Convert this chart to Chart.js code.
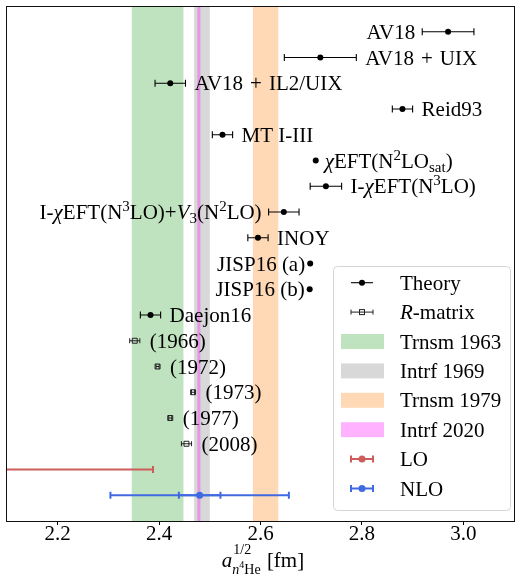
<!DOCTYPE html>
<html>
<head>
<meta charset="utf-8">
<script src="https://cdn.jsdelivr.net/npm/chart.js@4.4.1/dist/chart.umd.min.js"></script>
<style>
    html, body { margin: 0; padding: 0; background: #fff; }
</style>
</head>
<body>
<canvas id="grafico" width="515" height="574"></canvas>
<script>
// theory points, top to bottom
const theoryNames = ['AV18', 'AV18\u2004+\u2004UIX', 'AV18\u2004+\u2004IL2/UIX', 'Reid93', 'MT I-III', '$χ$EFT(N^{2}LO_{sat})',
    'I-$χ$EFT(N^{3}LO)', 'I-$χ$EFT(N^{3}LO)+$V$_{3}(N^{2}LO)', 'INOY', 'JISP16 (a)', 'JISP16 (b)', 'Daejon16'];
const theoryX = [2.97, 2.718, 2.422, 2.88, 2.525, 2.709, 2.729, 2.646, 2.595, 2.698, 2.697, 2.383];
const theoryErr = [0.051, 0.071, 0.03, 0.02, 0.02, 0, 0.031, 0.03, 0.02, 0, 0, 0.02];
const theorySide = ['left', 'right', 'right', 'right', 'right', 'right', 'right', 'left', 'right', 'left', 'left', 'right'];

// R-matrix points
const rmNames = ['(1966)', '(1972)', '(1973)', '(1977)', '(2008)'];
const rmX = [2.352, 2.397, 2.467, 2.422, 2.454];
const rmErr = [0.01, 0.003, 0.003, 0.003, 0.01];

// LO / NLO
const loX = 1.9;
const loErr = 0.488;
const nloX = 2.48;
const nloErr = [0.041, 0.176];

// experimental bands
const bandNames = ['Trnsm 1963', 'Intrf 1969', 'Trnsm 1979', 'Intrf 2020'];
const bandLow = [2.346, 2.469, 2.585, 2.4755];
const bandHigh = [2.448, 2.5, 2.635, 2.4815];
const bandColors = ['rgba(44,160,44,0.3)', 'rgba(127,127,127,0.3)', 'rgba(255,127,14,0.3)', 'rgba(255,0,255,0.3)'];

const xTicks = [2.2, 2.4, 2.6, 2.8, 3.0];

const serif = '"Liberation Serif", "DejaVu Serif", serif';
const loColor = 'rgb(205,92,92)';
const nloColor = 'rgb(65,105,225)';

// texto com $italico$, ^{sup} e _{sub}
function parseRich(str) {
    const segs = [];
    let it = false;
    let i = 0;
    while (i < str.length) {
        const c = str[i];
        if (c === '$') { it = !it; i++; continue; }
        if ((c === '^' || c === '_') && str[i + 1] === '{') {
            const end = str.indexOf('}', i);
            segs.push({ t: str.slice(i + 2, end), it: false, pos: c === '^' ? 'sup' : 'sub' });
            i = end + 1;
            continue;
        }
        const last = segs[segs.length - 1];
        if (last && last.pos === 'base' && last.it === it) last.t += c;
        else segs.push({ t: c, it: it, pos: 'base' });
        i++;
    }
    return segs;
}

function fontFor(s) {
    const size = s.pos === 'base' ? 21 : 15;
    return (s.it ? 'italic ' : '') + size + 'px ' + serif;
}

function drawRich(ctx, str, x, y, align) {
    const segs = parseRich(str);
    let w = 0;
    segs.forEach(s => { ctx.font = fontFor(s); s.w = ctx.measureText(s.t).width; w += s.w; });
    let cx = align === 'right' ? x - w : x;
    const baseY = y + 7;
    ctx.textAlign = 'left';
    ctx.textBaseline = 'alphabetic';
    segs.forEach(s => {
        ctx.font = fontFor(s);
        const dy = s.pos === 'sup' ? -8 : (s.pos === 'sub' ? 4 : 0);
        ctx.fillText(s.t, cx, baseY + dy);
        cx += s.w;
    });
}

function hbar(ctx, x0, x1, y, cap, color, lw) {
    ctx.strokeStyle = color;
    ctx.lineWidth = lw;
    ctx.beginPath();
    ctx.moveTo(x0, y); ctx.lineTo(x1, y);
    ctx.moveTo(x0, y - cap); ctx.lineTo(x0, y + cap);
    ctx.moveTo(x1, y - cap); ctx.lineTo(x1, y + cap);
    ctx.stroke();
}

const rmRow = i => theoryX.length + i;
const loRow = theoryX.length + rmX.length;
const nloRow = loRow + 1;

const extras = {
    id: 'extras',
    beforeDatasetsDraw(chart) {
        const { ctx, chartArea: a, scales: { x, y } } = chart;
        ctx.save();
        ctx.beginPath();
        ctx.rect(a.left, a.top, a.right - a.left, a.bottom - a.top);
        ctx.clip();

        for (let i = 0; i < bandLow.length; i++) {
            const p0 = x.getPixelForValue(bandLow[i]);
            const p1 = x.getPixelForValue(bandHigh[i]);
            ctx.fillStyle = bandColors[i];
            ctx.fillRect(p0, a.top, p1 - p0, a.bottom - a.top);
        }

        for (let i = 0; i < theoryX.length; i++) {
            if (theoryErr[i] > 0) {
                hbar(ctx, x.getPixelForValue(theoryX[i] - theoryErr[i]), x.getPixelForValue(theoryX[i] + theoryErr[i]),
                    y.getPixelForValue(i), 3.5, '#000', 1.1);
            }
        }
        for (let i = 0; i < rmX.length; i++) {
            hbar(ctx, x.getPixelForValue(rmX[i] - rmErr[i]), x.getPixelForValue(rmX[i] + rmErr[i]),
                y.getPixelForValue(rmRow(i)), 2.5, '#222', 1);
        }
        hbar(ctx, x.getPixelForValue(loX - loErr), x.getPixelForValue(loX + loErr), y.getPixelForValue(loRow), 3.5, loColor, 2);
        nloErr.forEach(e => {
            hbar(ctx, x.getPixelForValue(nloX - e), x.getPixelForValue(nloX + e), y.getPixelForValue(nloRow), 3.5, nloColor, 2);
        });
        ctx.restore();
    },
    afterDatasetsDraw(chart) {
        const { ctx, scales: { x, y } } = chart;
        ctx.save();
        ctx.fillStyle = '#000';
        for (let i = 0; i < theoryNames.length; i++) {
            const yy = y.getPixelForValue(i);
            if (theorySide[i] === 'right') {
                drawRich(ctx, theoryNames[i], x.getPixelForValue(theoryX[i] + theoryErr[i]) + 9, yy, 'left');
            } else {
                const gap = theoryErr[i] > 0 ? 7 : 5;
                drawRich(ctx, theoryNames[i], x.getPixelForValue(theoryX[i] - theoryErr[i]) - gap, yy, 'right');
            }
        }
        for (let i = 0; i < rmNames.length; i++) {
            const px = Math.max(x.getPixelForValue(rmX[i] + rmErr[i]), x.getPixelForValue(rmX[i]) + 2.5);
            drawRich(ctx, rmNames[i], px + 10, y.getPixelForValue(rmRow(i)), 'left');
        }
        ctx.restore();
    },
    afterDraw(chart) {
        const { ctx, chartArea: a } = chart;
        ctx.save();
        // moldura
        ctx.strokeStyle = '#111';
        ctx.lineWidth = 1;
        ctx.strokeRect(a.left - 0.5, a.top + 0.5, a.right - a.left + 1, a.bottom - a.top);

        // legenda
        const lx = 333.5, ly = 266.5, lw = 177, lh = 244;
        ctx.beginPath();
        ctx.roundRect(lx, ly, lw, lh, 4);
        ctx.fillStyle = 'rgba(255,255,255,0.8)';
        ctx.fill();
        ctx.strokeStyle = '#d5d5d5';
        ctx.lineWidth = 1;
        ctx.stroke();

        const items = ['Theory', '$R$-matrix'].concat(bandNames, ['LO', 'NLO']);
        items.forEach((name, i) => {
            const yy = 282.7 + i * 29.4;
            const hx0 = 351, hx1 = 373, hc = 362;
            if (i === 0) {
                ctx.strokeStyle = '#000'; ctx.lineWidth = 1.1;
                ctx.beginPath(); ctx.moveTo(hx0, yy); ctx.lineTo(hx1, yy); ctx.stroke();
                ctx.fillStyle = '#000';
                ctx.beginPath(); ctx.arc(hc, yy, 3, 0, Math.PI * 2); ctx.fill();
            } else if (i === 1) {
                hbar(ctx, hx0, hx1, yy, 2.5, '#222', 1);
                ctx.strokeRect(hc - 2.5, yy - 2.5, 5, 5);
            } else if (i < 6) {
                ctx.fillStyle = bandColors[i - 2];
                ctx.fillRect(341, yy - 7.5, 43, 15);
            } else {
                const col = i === 6 ? loColor : nloColor;
                hbar(ctx, hx0, hx1, yy, 3.5, col, 2);
                ctx.fillStyle = col;
                ctx.beginPath(); ctx.arc(hc, yy, 3.5, 0, Math.PI * 2); ctx.fill();
            }
            ctx.fillStyle = '#000';
            drawRich(ctx, name, 400, yy, 'left');
        });

        // titulo do eixo x: a^{1/2}_{n 4He} [fm]
        const fa = 'italic 21px ' + serif, fs = '14px ' + serif, fsi = 'italic 14px ' + serif, ft = '10px ' + serif, fm = '21px ' + serif;
        ctx.font = fa; const wa = ctx.measureText('a').width;
        ctx.font = fs; const wsup = ctx.measureText('1/2').width;
        ctx.font = fsi; const wn = ctx.measureText('n').width;
        ctx.font = ft; const w4 = ctx.measureText('4').width;
        ctx.font = fs; const whe = ctx.measureText('He').width;
        ctx.font = fm; const wfm = ctx.measureText(' [fm]').width;
        const wsub = wn + w4 + whe;
        const total = wa + Math.max(wsup, wsub) + wfm;
        let tx = (a.left + a.right) / 2 - total / 2 + 2;
        const by = 567;
        ctx.fillStyle = '#000';
        ctx.textAlign = 'left';
        ctx.textBaseline = 'alphabetic';
        ctx.font = fa; ctx.fillText('a', tx, by);
        tx += wa + 1;
        ctx.font = fs; ctx.fillText('1/2', tx, by - 13);
        ctx.font = fsi; ctx.fillText('n', tx - 1, by + 7);
        ctx.font = ft; ctx.fillText('4', tx - 1 + wn, by + 1);
        ctx.font = fs; ctx.fillText('He', tx - 1 + wn + w4, by + 7);
        tx += Math.max(wsup, wsub);
        ctx.font = fm; ctx.fillText(' [fm]', tx, by);
        ctx.restore();
    }
};

const ctx = document.getElementById('grafico').getContext('2d');
new Chart(ctx, {
    type: 'scatter',
    data: {
        datasets: [
            {
                label: 'Theory',
                data: theoryX.map((v, i) => ({ x: v, y: i })),
                pointRadius: 3, pointBackgroundColor: '#000', pointBorderWidth: 0
            },
            {
                label: 'R-matrix',
                data: rmX.map((v, i) => ({ x: v, y: rmRow(i) })),
                pointStyle: 'rect', pointRadius: 3.5, pointBackgroundColor: 'rgba(0,0,0,0)',
                pointBorderColor: '#222', pointBorderWidth: 1
            },
            {
                label: 'LO',
                data: [{ x: loX, y: loRow }],
                pointRadius: 3.5, pointBackgroundColor: loColor, pointBorderWidth: 0
            },
            {
                label: 'NLO',
                data: [{ x: nloX, y: nloRow }],
                pointRadius: 3.5, pointBackgroundColor: nloColor, pointBorderWidth: 0
            }
        ]
    },
    options: {
        responsive: false,
        devicePixelRatio: 1,
        animation: false,
        layout: { autoPadding: false, padding: { left: 7, right: 1, top: 6, bottom: 0 } },
        plugins: { legend: { display: false }, tooltip: { enabled: false } },
        scales: {
            x: {
                type: 'linear',
                min: 2.1,
                max: 3.1,
                afterBuildTicks: s => { s.ticks = xTicks.map(v => ({ value: v })); },
                afterFit: s => { s.height = 53; },
                ticks: {
                    font: { family: serif, size: 21 },
                    color: '#000',
                    padding: -3,
                    maxRotation: 0,
                    autoSkip: false,
                    callback: v => Number(v).toFixed(1)
                },
                grid: { drawOnChartArea: false, drawTicks: true, tickLength: 4, color: '#000' },
                border: { display: false }
            },
            y: {
                type: 'linear',
                display: false,
                reverse: true,
                min: -1,
                max: 19
            }
        }
    },
    plugins: [extras]
});
</script>
</body>
</html>
